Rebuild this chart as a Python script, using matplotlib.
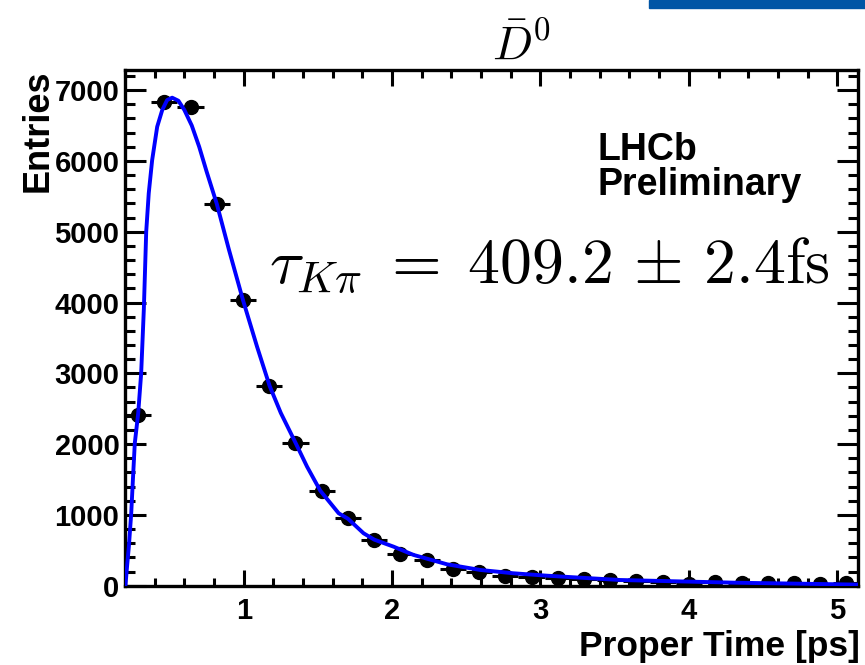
import matplotlib
matplotlib.use("Agg")
import matplotlib.pyplot as plt
from matplotlib.patches import Rectangle
from matplotlib.ticker import MultipleLocator

# binned proper-time distribution (bin centres in ps, entries per bin)
bin_centres = [0.288, 0.465, 0.642, 0.819, 0.995, 1.172, 1.349, 1.526, 1.703, 1.879,
               2.056, 2.233, 2.410, 2.587, 2.763, 2.940, 3.117, 3.294, 3.471, 3.647,
               3.824, 4.001, 4.178, 4.355, 4.531, 4.708, 4.885, 5.062]
entries = [2410, 6836, 6765, 5391, 4030, 2820, 2020, 1342, 952, 645,
           443, 363, 231, 198, 141, 119, 104, 100, 80, 60,
           50, 30, 50, 40, 38, 35, 30, 40]
bin_halfwidth = 0.0884

# fitted lifetime curve
fit_t = [0.203, 0.215, 0.226, 0.242, 0.253, 0.266, 0.289, 0.309, 0.327, 0.343,
         0.360, 0.383, 0.417, 0.451, 0.484, 0.518, 0.560, 0.600, 0.650, 0.700,
         0.750, 0.819, 0.900, 0.995, 1.090, 1.175, 1.250, 1.349, 1.427, 1.516,
         1.640, 1.703, 1.808, 1.880, 2.010, 2.145, 2.370, 2.594, 2.818, 3.043,
         3.267, 3.537, 4.311, 5.140]
fit_y = [0, 300, 551, 1023, 1483, 2011, 2435, 3000, 3906, 5000,
         5542, 6011, 6483, 6719, 6860, 6893, 6850, 6720, 6500, 6200,
         5850, 5391, 4750, 4035, 3376, 2820, 2440, 2020, 1681, 1342,
         1023, 945, 740, 650, 551, 434, 302, 222, 175, 141,
         113, 80, 42, 15]

title = r"$\bar{D}^0$"
tau_text = r"$\tau_{K\pi}\;=\;409.2\,\pm\,2.4\mathrm{fs}$"


def make_plot():
    plt.rcParams["font.family"] = ["Liberation Sans", "DejaVu Sans"]
    plt.rcParams["font.weight"] = "bold"
    plt.rcParams["mathtext.fontset"] = "cm"

    fig = plt.figure(figsize=(8.65, 6.65), dpi=100)
    ax = fig.add_axes([0.1445, 0.1193, 0.8474, 0.7754])

    ax.errorbar(bin_centres, entries, xerr=bin_halfwidth, fmt="o", color="black",
                ms=10, elinewidth=2.2, capsize=0, zorder=2)
    ax.plot(fit_t, fit_y, color="#0000ff", lw=2.8, zorder=3)

    ax.set_xlim(0.2, 5.14)
    ax.set_ylim(0, 7284)
    ax.xaxis.set_major_locator(MultipleLocator(1))
    ax.xaxis.set_minor_locator(MultipleLocator(0.2))
    ax.yaxis.set_major_locator(MultipleLocator(1000))
    ax.yaxis.set_minor_locator(MultipleLocator(200))

    ax.tick_params(which="both", direction="in", top=True, right=True,
                   width=2.2, labelsize=21, color="black")
    ax.tick_params(axis="x", which="major", length=11.5, pad=8)
    ax.tick_params(axis="x", which="minor", length=5.7)
    ax.tick_params(axis="y", which="major", length=15, pad=4)
    ax.tick_params(axis="y", which="minor", length=7.5)
    for lab in ax.get_xticklabels() + ax.get_yticklabels():
        lab.set_fontweight("bold")
    for sp in ax.spines.values():
        sp.set_linewidth(2.4)

    fig.text(0.994, 0.014, "Proper Time [ps]", ha="right", va="baseline",
             fontsize=25.5, fontweight="bold")
    fig.text(0.024, 0.896, "Entries", rotation=90, ha="left", va="top",
             fontsize=26, fontweight="bold")

    fig.text(0.603, 0.912, title, ha="center", va="baseline", fontsize=34)
    ax.text(0.962, 0.587, tau_text, transform=ax.transAxes, ha="right",
            va="baseline", fontsize=46)
    ax.text(0.645, 0.826, "LHCb", transform=ax.transAxes, ha="left",
            va="baseline", fontsize=27, fontweight="bold")
    ax.text(0.645, 0.757, "Preliminary", transform=ax.transAxes, ha="left",
            va="baseline", fontsize=27, fontweight="bold")

    # blue banner fragment in the top right corner
    fig.patches.append(Rectangle((0.750, 0.988), 0.25, 0.012, transform=fig.transFigure,
                                 color="#0055a5", zorder=5))

    fig.savefig("out.png", dpi=100)


if __name__ == "__main__":
    make_plot()
